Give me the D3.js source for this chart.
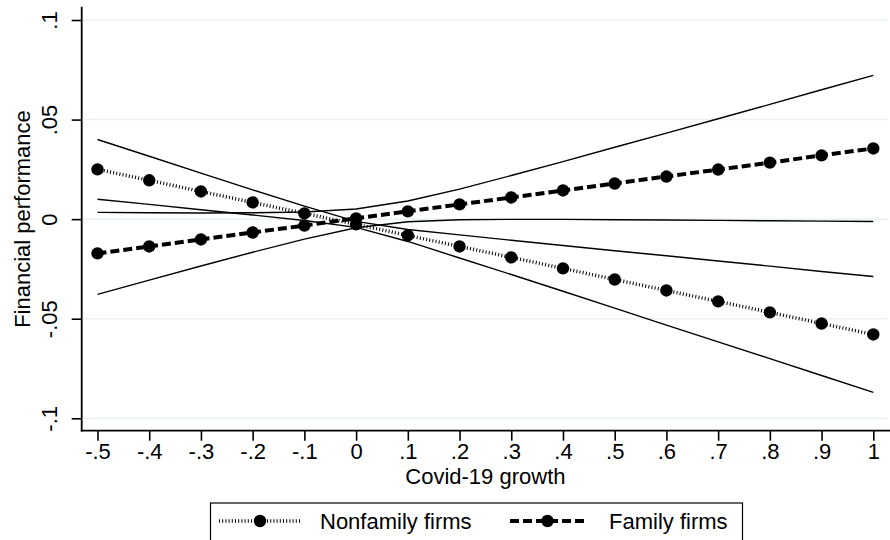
<!DOCTYPE html>
<html><head><meta charset="utf-8">
<script src="https://cdn.jsdelivr.net/npm/d3@7"></script>
<style>body{margin:0;background:#fff}text{font-family:"Liberation Sans",Arial,sans-serif;fill:#000}</style>
</head><body><svg id="c" width="890" height="540"></svg>
<script>
const xValues = [-0.5,-0.4,-0.3,-0.2,-0.1,0,0.1,0.2,0.3,0.4,0.5,0.6,0.7,0.8,0.9,1];
const nonfamily      = [0.0250,0.0195,0.0139,0.0084,0.0029,-0.0026,-0.0082,-0.0137,-0.0192,-0.0247,-0.0303,-0.0358,-0.0413,-0.0468,-0.0524,-0.0579];
const nonfamilyUpper = [0.0400,0.0316,0.0231,0.0147,0.0065,-0.0011,-0.0052,-0.0079,-0.0106,-0.0132,-0.0159,-0.0184,-0.0210,-0.0236,-0.0263,-0.0288];
const nonfamilyLower = [0.0100,0.0074,0.0047,0.0021,-0.0007,-0.0041,-0.0112,-0.0195,-0.0278,-0.0362,-0.0447,-0.0532,-0.0616,-0.0700,-0.0785,-0.0870];
const family      = [-0.0172,-0.0137,-0.0102,-0.0067,-0.0032,0.0004,0.0039,0.0074,0.0109,0.0144,0.0179,0.0214,0.0249,0.0284,0.0320,0.0355];
const familyUpper = [0.0034,0.0032,0.0031,0.0032,0.0036,0.0051,0.0091,0.0151,0.0219,0.0289,0.0361,0.0432,0.0504,0.0576,0.0650,0.0722];
const familyLower = [-0.0378,-0.0306,-0.0235,-0.0166,-0.0100,-0.0043,-0.0013,-0.0003,-0.0001,-0.0001,-0.0003,-0.0004,-0.0006,-0.0008,-0.0010,-0.0012];
const xTicks = [-0.5,-0.4,-0.3,-0.2,-0.1,0,0.1,0.2,0.3,0.4,0.5,0.6,0.7,0.8,0.9,1];
const xTickLabels = ["-.5","-.4","-.3","-.2","-.1","0",".1",".2",".3",".4",".5",".6",".7",".8",".9","1"];
const yTicks = [0.1,0.05,0,-0.05,-0.1];
const yTickLabels = [".1",".05","0","-.05","-.1"];
const seriesNames = ["Nonfamily firms","Family firms"];
const xTitle = "Covid-19 growth";
const yTitle = "Financial performance";

const svg = d3.select("#c");
const x = d3.scaleLinear().domain([-0.5,1]).range([97.5,873.3]);
const y = d3.scaleLinear().domain([-0.1,0.1]).range([418.3,20]);
const axX = 81.7, axY = 430.7, FS = 22;

// gridlines
svg.append("g").selectAll("line").data(yTicks).join("line")
  .attr("x1",axX+1).attr("x2",888).attr("y1",d=>y(d)).attr("y2",d=>y(d))
  .attr("stroke","#eaf2f3").attr("stroke-width",1.5);

// axes
const gy = svg.append("g").attr("transform",`translate(${axX},0)`)
  .call(d3.axisLeft(y).tickValues(yTicks).tickFormat((d,i)=>yTickLabels[i]).tickSize(10).tickPadding(0));
gy.select(".domain").remove();
gy.selectAll(".tick line").attr("stroke","#000").attr("stroke-width",1.6);
gy.selectAll(".tick text").attr("font-size",FS).attr("font-family",null)
  .attr("x",null).attr("dy",null).attr("text-anchor","middle")
  .attr("transform","translate(-25,0) rotate(-90)");
svg.append("line").attr("x1",axX).attr("x2",axX).attr("y1",6.7).attr("y2",axY+0.8)
  .attr("stroke","#000").attr("stroke-width",1.8);

const gx = svg.append("g").attr("transform",`translate(0,${axY})`)
  .call(d3.axisBottom(x).tickValues(xTicks).tickFormat((d,i)=>xTickLabels[i]).tickSize(10));
gx.select(".domain").remove();
gx.selectAll(".tick line").attr("stroke","#000").attr("stroke-width",1.6);
gx.selectAll(".tick text").attr("font-size",FS).attr("font-family",null)
  .attr("dy",null).attr("y",459-axY);
svg.append("line").attr("x1",axX-0.9).attr("x2",890).attr("y1",axY).attr("y2",axY)
  .attr("stroke","#000").attr("stroke-width",1.8);

svg.append("text").attr("x",(x(-0.5)+x(1))/2).attr("y",484).attr("text-anchor","middle")
  .attr("font-size",FS).text(xTitle);
svg.append("text").attr("transform",`translate(30,219) rotate(-90)`).attr("text-anchor","middle")
  .attr("font-size",FS).text(yTitle);

// CI lines
const line = d3.line().x((d,i)=>x(xValues[i])).y(d=>y(d));
[nonfamilyUpper,nonfamilyLower,familyUpper,familyLower].forEach(s=>{
  svg.append("path").datum(s).attr("d",line).attr("fill","none").attr("stroke","#000").attr("stroke-width",1.4);
});

// mean lines
svg.append("path").datum(nonfamily).attr("d",line).attr("fill","none")
  .attr("stroke","#000").attr("stroke-width",3.5).attr("stroke-dasharray","1,2.2");
svg.append("path").datum(family).attr("d",line).attr("fill","none")
  .attr("stroke","#000").attr("stroke-width",4).attr("stroke-dasharray","9,4");

[nonfamily,family].forEach(s=>{
  svg.append("g").selectAll("circle").data(s).join("circle")
    .attr("cx",(d,i)=>x(xValues[i])).attr("cy",d=>y(d)).attr("r",6.2).attr("fill","#000");
});

// legend
svg.append("rect").attr("x",210.5).attr("y",503).attr("width",532).attr("height",60)
  .attr("fill","#fff").attr("stroke","#000").attr("stroke-width",1.2);
const ly = 521;
const leg = [
  {x0:219,x1:301,tx:320,dash:"1,2.2",w:3.5,name:seriesNames[0]},
  {x0:510,x1:585,tx:609,dash:"9,4",w:4,name:seriesNames[1]}
];
leg.forEach(l=>{
  svg.append("line").attr("x1",l.x0).attr("x2",l.x1).attr("y1",ly).attr("y2",ly)
    .attr("stroke","#000").attr("stroke-width",l.w).attr("stroke-dasharray",l.dash);
  svg.append("circle").attr("cx",(l.x0+l.x1)/2).attr("cy",ly).attr("r",6.2).attr("fill","#000");
  svg.append("text").attr("x",l.tx).attr("y",ly+8).attr("font-size",FS).text(l.name);
});
</script></body></html>
